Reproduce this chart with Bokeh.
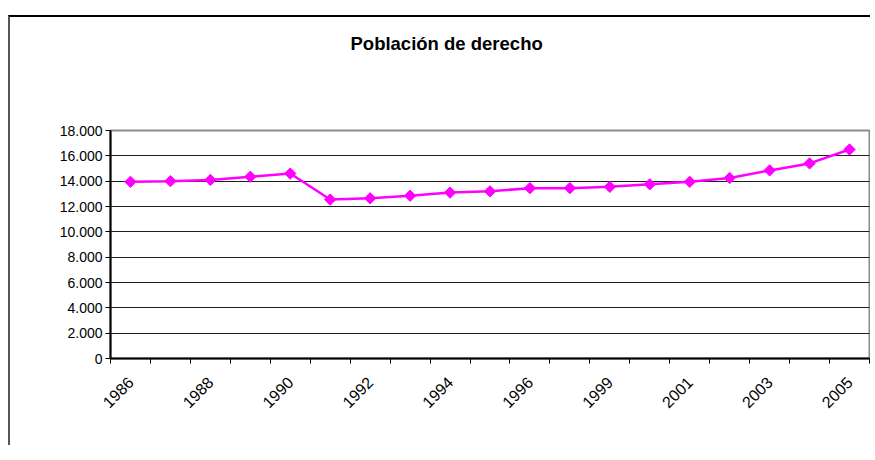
import math
from bokeh.plotting import figure
from bokeh.models import Range1d, FixedTicker, Title
from bokeh.embed import file_html
from bokeh.resources import INLINE

# ---- data ----
years = ["1986", "1987", "1988", "1989", "1990", "1991", "1992", "1993", "1994", "1995",
         "1996", "1998", "1999", "2000", "2001", "2002", "2003", "2004", "2005"]
population = [13950, 14000, 14100, 14350, 14600, 12550, 12650, 12850, 13100, 13200,
              13450, 13450, 13550, 13750, 13950, 14250, 14850, 15400, 16500]
y_ticks = [0, 2000, 4000, 6000, 8000, 10000, 12000, 14000, 16000, 18000]
title_text = "Población de derecho"

xs = list(range(len(years)))

p = figure(width=862, height=430, output_backend="svg", toolbar_location=None,
           x_range=Range1d(-0.5, len(years) - 0.5), y_range=Range1d(0, 18000),
           min_border_left=100, min_border_right=3, min_border_top=113, min_border_bottom=89,
           title=None)
p.margin = (15, 0, 0, 8)
p.styles = {"border-left": "2px solid #555555", "border-top": "2px solid #000000"}

# spacer (closest to the frame) and the real title above it
spacer = Title(text=" ", text_font="Liberation Sans", text_font_size="18.5px", standoff=54)
p.add_layout(spacer, "above")
title = Title(text=title_text, align="left", offset=240, standoff=0,
              text_font="Liberation Sans", text_font_size="18.5px",
              text_font_style="bold", text_color="#000000")
p.add_layout(title, "above")

p.background_fill_color = "white"
p.border_fill_color = "white"
p.outline_line_color = "#8c8c8c"
p.outline_line_width = 2

# grid
p.xgrid.visible = False
p.ygrid.ticker = FixedTicker(ticks=y_ticks[1:-1])
p.ygrid.grid_line_color = "#1e1e1e"
p.ygrid.grid_line_width = 1

# y axis
p.yaxis.ticker = FixedTicker(ticks=y_ticks)
p.yaxis.major_label_overrides = {v: f"{v:,}".replace(",", ".") for v in y_ticks}
p.yaxis.axis_line_color = "#000000"
p.yaxis.axis_line_width = 2
p.yaxis.major_tick_out = 5
p.yaxis.major_tick_in = 0
p.yaxis.major_tick_line_color = "#000000"
p.yaxis.minor_tick_line_color = None
p.yaxis.major_label_standoff = 3
p.yaxis.major_label_text_font = "Liberation Sans"
p.yaxis.major_label_text_font_size = "14px"
p.yaxis.major_label_text_color = "#000000"

# x axis
label_idx = list(range(0, len(years), 2))
p.xaxis.ticker = FixedTicker(ticks=label_idx, minor_ticks=[i - 0.5 for i in range(len(years) + 1)])
p.xaxis.major_label_overrides = {i: years[i] for i in label_idx}
p.xaxis.major_label_orientation = math.pi / 4
p.xaxis.axis_line_color = "#000000"
p.xaxis.axis_line_width = 2
p.xaxis.major_tick_out = 0
p.xaxis.major_tick_in = 0
p.xaxis.minor_tick_out = 5
p.xaxis.minor_tick_in = 0
p.xaxis.minor_tick_line_color = "#000000"
p.xaxis.major_label_standoff = 16
p.xaxis.major_label_text_font = "Liberation Sans"
p.xaxis.major_label_text_font_size = "16px"
p.xaxis.major_label_text_color = "#000000"

# series
p.line(xs, population, line_color="#ff00ff", line_width=2.5)
p.scatter(xs, population, marker="square", angle=math.pi / 4, size=8,
          fill_color="#ff00ff", line_color="#ff00ff")

open("out.html", "w").write(file_html(p, INLINE))
